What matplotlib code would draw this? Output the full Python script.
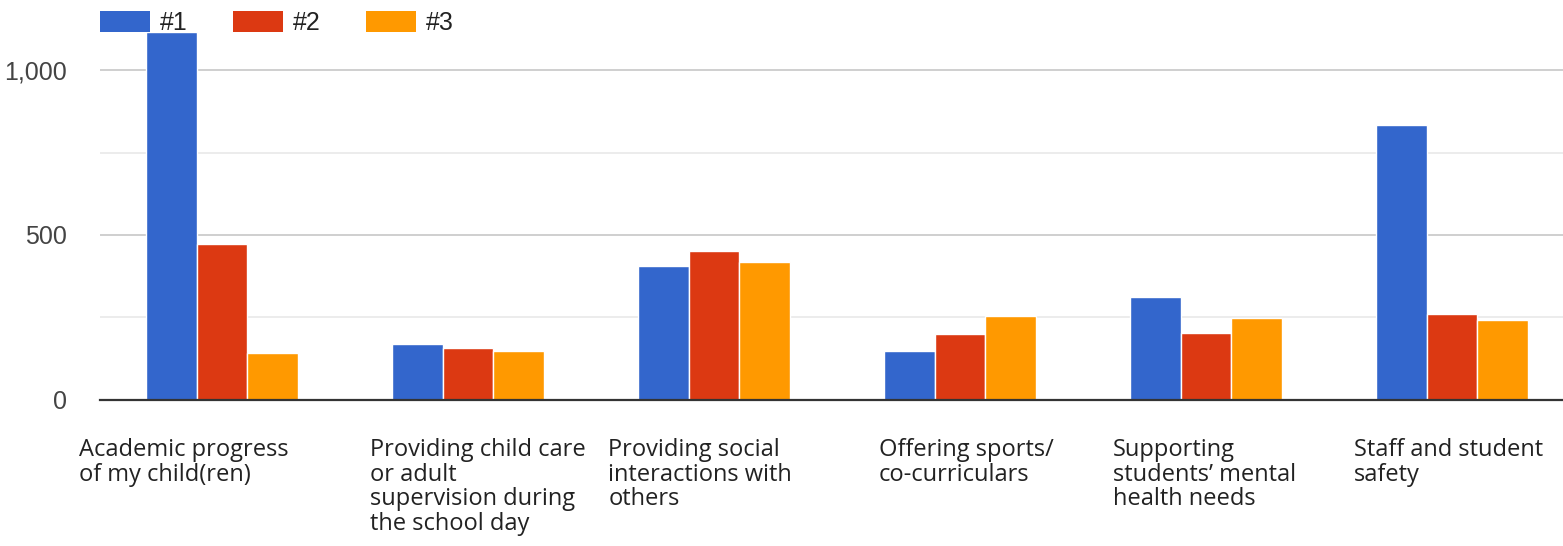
import numpy as np
import matplotlib.pyplot as plt
from matplotlib.patches import Patch
from matplotlib.ticker import MultipleLocator, FuncFormatter

categories = [
    "Academic progress\nof my child(ren)",
    "Providing child care\nor adult\nsupervision during\nthe school day",
    "Providing social\ninteractions with\nothers",
    "Offering sports/\nco-curriculars",
    "Supporting\nstudents\u2019 mental\nhealth needs",
    "Staff and student\nsafety",
]
series = ["#1", "#2", "#3"]
rank1 = [1117, 169, 405, 147, 312, 834]
rank2 = [472, 156, 451, 200, 201, 260]
rank3 = [141, 147, 418, 254, 247, 241]
colors = ["#3366cc", "#dc3912", "#ff9900"]

# label left edges relative to group centre (group spacing = 1)
label_dx = [-0.58, -0.40, -0.43, -0.33, -0.38, -0.40]

W, H = 1563, 546
fig = plt.figure(figsize=(W / 100, H / 100), dpi=100)
ax = fig.add_axes([100 / W, (H - 399.5) / H, 1 - 100 / W, 399.5 / H])

x = np.arange(len(categories))
bw = 0.205
for i, (vals, c) in enumerate(zip([rank1, rank2, rank3], colors)):
    ax.bar(x + (i - 1) * bw, vals, width=bw, color=c, edgecolor="white",
           linewidth=1.0, zorder=3)

ax.set_xlim(-0.496, 5.451)
ax.set_ylim(0, 1214)

ax.yaxis.set_major_locator(MultipleLocator(500))
ax.yaxis.set_minor_locator(MultipleLocator(250))
ax.yaxis.set_major_formatter(FuncFormatter(lambda v, p: f"{int(v):,}"))
ax.grid(axis="y", which="major", color="#cccccc", linewidth=1.3, zorder=0)
ax.grid(axis="y", which="minor", color="#ebebeb", linewidth=1.3, zorder=0)
ax.tick_params(axis="y", which="both", length=0, pad=24, labelsize=18,
               labelcolor="#444444")
for lab in ax.get_yticklabels():
    lab.set_family("Liberation Sans")
ax.set_xticks([])
for s in ["top", "right", "left"]:
    ax.spines[s].set_visible(False)
ax.spines["bottom"].set_color("#333333")
ax.spines["bottom"].set_linewidth(1.6)
ax.spines["bottom"].set_zorder(4)

for xi, lab, dx in zip(x, categories, label_dx):
    ax.annotate(lab, xy=(xi + dx, 0), xycoords=("data", "axes fraction"),
                xytext=(0, -39), textcoords="offset pixels", ha="left",
                va="top", fontsize=17, family="Open Sans", color="#222222",
                linespacing=1.02, annotation_clip=False)

handles = [Patch(facecolor=c, edgecolor="none") for c in colors]
leg = fig.legend(handles, series, loc="upper left",
                 bbox_to_anchor=(100 / W, 1 - 11 / H), ncol=3, frameon=False,
                 borderpad=0, borderaxespad=0, handlelength=2.0,
                 handleheight=0.92, handletextpad=0.4, columnspacing=1.8,
                 prop={"family": "Liberation Sans", "size": 18})
for t in leg.get_texts():
    t.set_color("#222222")

fig.savefig("out.png", dpi=100)
